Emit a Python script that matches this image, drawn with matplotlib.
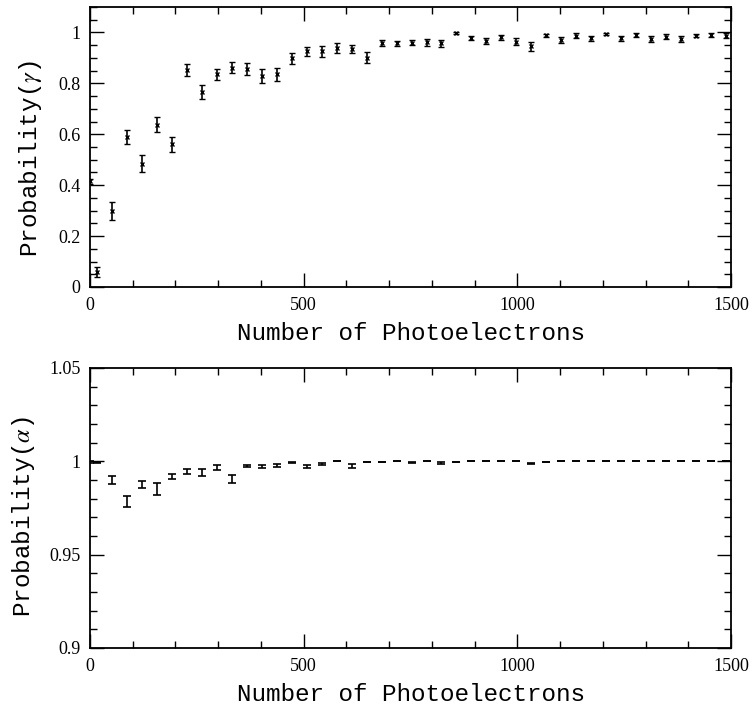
import matplotlib
matplotlib.use("Agg")
import matplotlib.pyplot as plt
from matplotlib.ticker import MultipleLocator, FuncFormatter

# Bin centres (number of photoelectrons); the first entry is the underflow bin at 0
photoelectrons = [0, 17.5, 52.5, 87.5, 122.5, 157.5, 192.5, 227.5, 262.5, 297.5,
                  332.5, 367.5, 402.5, 437.5, 472.5, 507.5, 542.5, 577.5, 612.5,
                  647.5, 682.5, 717.5, 752.5, 787.5, 822.5, 857.5, 892.5, 927.5,
                  962.5, 997.5, 1032.5, 1067.5, 1102.5, 1137.5, 1172.5, 1207.5,
                  1242.5, 1277.5, 1312.5, 1347.5, 1382.5, 1417.5, 1452.5, 1487.5]

prob_gamma = [0.415, 0.059, 0.297, 0.588, 0.485, 0.638, 0.561, 0.854, 0.767, 0.835,
              0.862, 0.856, 0.829, 0.835, 0.898, 0.926, 0.926, 0.939, 0.934, 0.901,
              0.959, 0.958, 0.960, 0.962, 0.958, 0.996, 0.979, 0.967, 0.981, 0.963,
              0.946, 0.989, 0.970, 0.988, 0.977, 0.995, 0.977, 0.990, 0.976, 0.984,
              0.976, 0.988, 0.990, 0.988]
err_gamma = [0.011, 0.018, 0.035, 0.028, 0.035, 0.031, 0.030, 0.024, 0.028, 0.023,
             0.023, 0.025, 0.028, 0.026, 0.020, 0.018, 0.021, 0.018, 0.015, 0.022,
             0.012, 0.010, 0.011, 0.014, 0.014, 0.004, 0.009, 0.013, 0.009, 0.014,
             0.017, 0.006, 0.013, 0.008, 0.010, 0.004, 0.010, 0.007, 0.012, 0.008,
             0.012, 0.005, 0.006, 0.010]

prob_alpha = [0.9995, 0.9993, 0.9902, 0.9784, 0.9875, 0.9852, 0.9920, 0.9945, 0.9939,
              0.9968, 0.9905, 0.9975, 0.9970, 0.9977, 0.9995, 0.9970, 0.9986, 1.0,
              0.9975, 0.9996, 0.9998, 1.0, 0.9995, 1.0, 0.9991, 0.9996, 1.0, 1.0,
              1.0, 1.0, 0.9988, 0.9998, 1.0, 1.0, 1.0, 1.0, 1.0, 1.0, 1.0, 1.0,
              1.0, 1.0, 1.0, 1.0]
err_alpha = [0.0005, 0.0004, 0.0022, 0.0031, 0.0019, 0.0030, 0.0014, 0.0012, 0.0019,
             0.0013, 0.0021, 0.0006, 0.0008, 0.0009, 0.0002, 0.0008, 0.0004, 0.0,
             0.0009, 0.0002, 0.0001, 0.0, 0.0002, 0.0, 0.0003, 0.0002, 0.0, 0.0,
             0.0, 0.0, 0.0004, 0.0001, 0.0, 0.0, 0.0, 0.0, 0.0, 0.0, 0.0, 0.0,
             0.0, 0.0, 0.0, 0.0]

x_ticks = [0, 500, 1000, 1500]

plt.rcParams["mathtext.fontset"] = "stix"
label_font = dict(family="Liberation Mono", size=17.5)
tick_font = "Liberation Serif"

fig = plt.figure(figsize=(7.52, 7.07), dpi=100)
ax_g = fig.add_axes([0.1197, 0.5941, 0.8524, 0.396])
ax_a = fig.add_axes([0.1197, 0.0835, 0.8524, 0.396])


def fmt(v, pos):
    return "%g" % round(v, 4)


def style(ax, ylim, ymajor, yminor):
    ax.set_xlim(0, 1500)
    ax.set_ylim(*ylim)
    ax.set_xticks(x_ticks)
    ax.xaxis.set_minor_locator(MultipleLocator(100))
    ax.yaxis.set_major_locator(MultipleLocator(ymajor))
    ax.yaxis.set_minor_locator(MultipleLocator(yminor))
    ax.yaxis.set_major_formatter(FuncFormatter(fmt))
    ax.xaxis.set_major_formatter(FuncFormatter(fmt))
    ax.tick_params(which="both", direction="in", top=True, right=True,
                   width=1.0, colors="black", labelsize=13, pad=7)
    ax.tick_params(which="major", length=10)
    ax.tick_params(which="minor", length=5)
    for lab in ax.get_xticklabels() + ax.get_yticklabels():
        lab.set_family(tick_font)
    for sp in ax.spines.values():
        sp.set_linewidth(1.3)
    ax.set_xlabel("Number of Photoelectrons", **label_font, labelpad=6)


ax_g.errorbar(photoelectrons, prob_gamma, yerr=err_gamma, fmt="x", color="black",
              markersize=3.5, markeredgewidth=1.0, elinewidth=1.2, capsize=2.2,
              capthick=1.2)
style(ax_g, (0, 1.1), 0.2, 0.05)
ax_g.set_ylabel(r"Probability($\gamma$)", **label_font)
ax_g.yaxis.set_label_coords(-0.072, 0.46)

ax_a.errorbar(photoelectrons, prob_alpha, yerr=err_alpha, fmt="none", color="black",
              elinewidth=1.2, capsize=3.0, capthick=1.2)
style(ax_a, (0.9, 1.05), 0.05, 0.01)
ax_a.set_ylabel(r"Probability($\alpha$)", **label_font)
ax_a.yaxis.set_label_coords(-0.082, 0.47)

fig.savefig("out.png", dpi=100)
